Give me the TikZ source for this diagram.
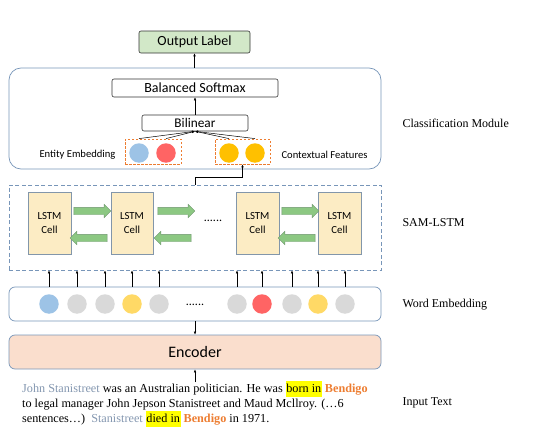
\documentclass[tikz,border=0pt]{standalone}
\usepackage{fontspec}
\setmainfont{Liberation Serif}
\newfontfamily\calib{Carlito}
\usetikzlibrary{shapes.arrows,arrows.meta,calc}
\definecolor{bord}{RGB}{120,150,185}
\definecolor{outfill}{RGB}{210,232,200}
\definecolor{cellfill}{RGB}{252,236,196}
\definecolor{cellbord}{RGB}{130,150,170}
\definecolor{garr}{RGB}{140,200,130}
\definecolor{garrb}{RGB}{110,150,110}
\definecolor{cblue}{RGB}{157,195,230}
\definecolor{cred}{RGB}{255,100,100}
\definecolor{cyel}{RGB}{255,192,0}
\definecolor{cyel2}{RGB}{255,217,102}
\definecolor{cgray}{RGB}{217,217,217}
\definecolor{encfill}{RGB}{250,222,205}
\definecolor{orng}{RGB}{237,125,49}
\definecolor{ent}{RGB}{132,151,176}
\definecolor{hly}{RGB}{255,255,0}
\newcommand{\hlt}[1]{{\setlength{\fboxsep}{0.6pt}\colorbox{hly}{\strut #1}}}
\newcommand{\bdg}{\textcolor{orng}{\textbf{Bendigo}}}
\begin{document}
\begin{tikzpicture}[x=1pt,y=-1pt,
  arr/.style={-{Latex[length=3pt,width=2.6pt]},line width=0.5pt,black},
  plainbox/.style={draw=black!80,rounded corners=2pt,line width=0.6pt,inner sep=0pt,font=\calib\fontsize{14}{16}\selectfont},
  module/.style={draw=bord,line width=0.7pt,inner sep=0pt,minimum width=372pt},
  cell/.style={draw=cellbord,fill=cellfill,line width=0.6pt,minimum width=43pt,minimum height=62pt,inner sep=0pt,align=center,font=\calib\fontsize{10.8}{14}\selectfont},
  gar/.style={single arrow,draw=garrb,fill=garr,line width=0.4pt,inner xsep=0pt,inner ysep=3.5pt,single arrow head extend=3pt,minimum height=37pt},
  dot/.style={circle,minimum size=19.5pt,inner sep=0pt},
  obox/.style={draw=orng,dashed,dash pattern=on 2.5pt off 1.5pt,line width=0.8pt,minimum height=25pt,inner sep=0pt},
  side/.style={anchor=west,font=\fontsize{12}{14}\selectfont},
  small/.style={font=\calib\fontsize{10.6}{12}\selectfont}
]
\useasboundingbox (0,0) rectangle (550,439);
% Output label
\node[plainbox,fill=outfill,minimum width=111pt,minimum height=22pt] (out) at (194.5,42) {Output Label};
% classification module
\node[module,rounded corners=12pt,minimum height=101pt] (cls) at (195,118.5) {};
\node[plainbox,minimum width=166pt,minimum height=18pt] (bs) at (195,88) {Balanced Softmax};
\node[plainbox,minimum width=106pt,minimum height=16pt,font=\calib\fontsize{13.3}{15}\selectfont] (bil) at (195,123) {Bilinear};
\node[obox,minimum width=56pt] (ebox) at (153,151.5) {};
\node[obox,minimum width=55pt] (cbox) at (242.5,151.5) {};
\node[dot,fill=cblue] (e1) at (139,153) {};
\node[dot,fill=cred] (e2) at (166,153) {};
\node[dot,fill=cyel] (e3) at (229,153) {};
\node[dot,fill=cyel] (e4) at (255,153) {};
\node[small,anchor=east] (entl) at (119,155) {Entity Embedding};
\node[small,anchor=west] (ctxl) at (278,155) {Contextual Features};
\draw[arr] (cls.north -| out.south) -- (out.south);
\draw[arr] (bil.north) -- (bs.south);
\foreach \e in {e1,e2,e3,e4} \draw[arr] (\e.north |- ebox.north) -- (bil.south);
% SAM-LSTM
\node[module,dashed,dash pattern=on 4pt off 2.5pt,minimum height=85pt] (sam) at (195,227.5) {};
\node[cell] (c1) at (49.5,223) {LSTM\\Cell};
\node[cell,minimum width=42pt] (c2) at (132,223) {LSTM\\Cell};
\node[cell] (c3) at (257.5,223) {LSTM\\Cell};
\node[cell] (c4) at (339.5,223) {LSTM\\Cell};
\node[font=\calib\fontsize{12}{12}\selectfont] (sdots) at (213,221) {......};
\node[gar] (g1) at (90.5,211) {};
\node[gar,shape border rotate=180] (g2) at (90.5,238) {};
\node[gar] (g3) at (174.5,211) {};
\node[gar,shape border rotate=180] (g4) at (174.5,238) {};
\node[gar] (g5) at (298.5,211) {};
\node[gar,shape border rotate=180] (g6) at (298.5,238) {};
\coordinate (bend) at (195,177.5);
\draw[arr] (sam.north) -- (bend) -| (cbox.south);
% word embedding
\node[module,rounded corners=6pt,minimum height=34pt] (we) at (195,304) {};
\node[dot,fill=cblue] (w1) at (49,304) {};
\node[dot,fill=cgray] (w2) at (77,304) {};
\node[dot,fill=cgray] (w3) at (105,304) {};
\node[dot,fill=cyel2] (w4) at (132,304) {};
\node[dot,fill=cgray] (w5) at (159,304) {};
\node[font=\calib\fontsize{12}{12}\selectfont] (wdots) at (195,305) {......};
\node[dot,fill=cgray] (w6) at (237,304) {};
\node[dot,fill=cred] (w7) at (262,304) {};
\node[dot,fill=cgray] (w8) at (292,304) {};
\node[dot,fill=cyel2] (w9) at (318,304) {};
\node[dot,fill=cgray] (w10) at (345,304) {};
\foreach \w in {w1,w2,w3,w4,w5,w6,w7,w8,w9,w10} \draw[arr] (\w |- we.north) -- (\w |- sam.south);
% encoder
\node[module,rounded corners=6pt,fill=encfill,minimum height=34pt,font=\calib\fontsize{16}{18}\selectfont] (enc) at (195,352) {Encoder};
\draw[arr] (we.south) -- (enc.north);
% input text
\node[anchor=north west,align=left,inner sep=0pt,font=\fontsize{12.2}{15}\selectfont] (txt) at (22,381)
 {\textcolor{ent}{John Stanistreet} was an Australian politician. He was \hlt{born in} \bdg\\
  to legal manager John Jepson Stanistreet and Maud Mcllroy. (…6\\
  sentences…) \ \textcolor{ent}{Stanistreet} \hlt{died in} \bdg{} in 1971.};
\coordinate (tin) at (195,382);
\draw[arr] (tin) -- (enc.south);
% side labels
\node[side] (l1) at (399,123) {Classification Module};
\node[side] (l2) at (399,223) {SAM-LSTM};
\node[side] (l3) at (399,305) {Word Embedding};
\node[side] (l4) at (399,403) {Input Text};
\end{tikzpicture}
\end{document}
